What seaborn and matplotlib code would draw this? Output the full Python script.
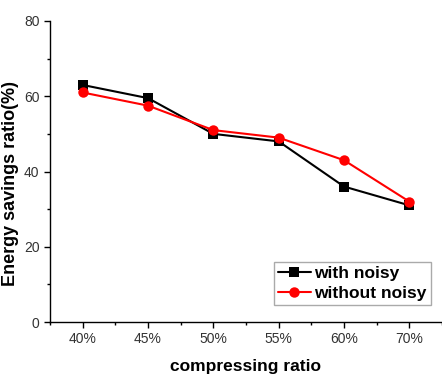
import pandas as pd
import matplotlib
matplotlib.use("Agg")
import matplotlib.pyplot as plt
import seaborn as sns
from matplotlib.ticker import MultipleLocator, AutoMinorLocator

# data
ratios = ["40%", "45%", "50%", "55%", "60%", "70%"]
with_noisy = [63, 59.5, 50, 48, 36, 31]
without_noisy = [61, 57.5, 51, 49, 43, 32]

df = pd.DataFrame({
    "ratio": ratios * 2,
    "value": with_noisy + without_noisy,
    "series": ["with noisy"] * len(ratios) + ["without noisy"] * len(ratios),
})

sns.set_theme(style="ticks")
plt.rcParams["font.family"] = ["Liberation Sans", "DejaVu Sans"]

fig = plt.figure(figsize=(4.42, 3.78), dpi=100)
ax = fig.add_axes([50 / 442, 1 - 322 / 378, 392 / 442, 301 / 378])

sns.lineplot(data=df, x="ratio", y="value", hue="series", style="series",
             markers=["s", "o"], dashes=False, palette=["black", "red"],
             linewidth=1.5, markersize=7.5, markeredgewidth=0, ax=ax)

ax.set_xlim(-0.5, 5.5)
ax.set_ylim(0, 80)
ax.yaxis.set_major_locator(MultipleLocator(20))
ax.yaxis.set_minor_locator(MultipleLocator(10))
ax.xaxis.set_minor_locator(AutoMinorLocator(2))
ax.tick_params(axis="both", which="major", direction="out", length=4, width=1,
               labelsize=10, color="black", labelcolor="#333333")
ax.tick_params(axis="both", which="minor", direction="out", length=2.5, width=1,
               color="black")
for s in ["top", "right"]:
    ax.spines[s].set_visible(False)
for s in ["left", "bottom"]:
    ax.spines[s].set_linewidth(1)
    ax.spines[s].set_color("black")

ax.set_xlabel("compressing ratio", fontsize=12.5, fontweight="bold", color="black", labelpad=9)
ax.set_ylabel("Energy savings ratio(%)", fontsize=13, fontweight="bold", color="black")
ax.yaxis.set_label_coords(-0.08, 0.46)

handles, labels = ax.get_legend_handles_labels()
leg = ax.legend(handles, labels, loc="lower right", bbox_to_anchor=(0.972, 0.056),
                borderaxespad=0, fancybox=False, edgecolor="#aaaaaa",
                prop={"weight": "bold", "size": 12.5}, handlelength=1.9,
                handletextpad=0.2, borderpad=0.25, labelspacing=0.25, framealpha=1)
leg.get_frame().set_linewidth(1)
for t in leg.get_texts():
    t.set_color("black")

fig.savefig("out.png", dpi=100)
